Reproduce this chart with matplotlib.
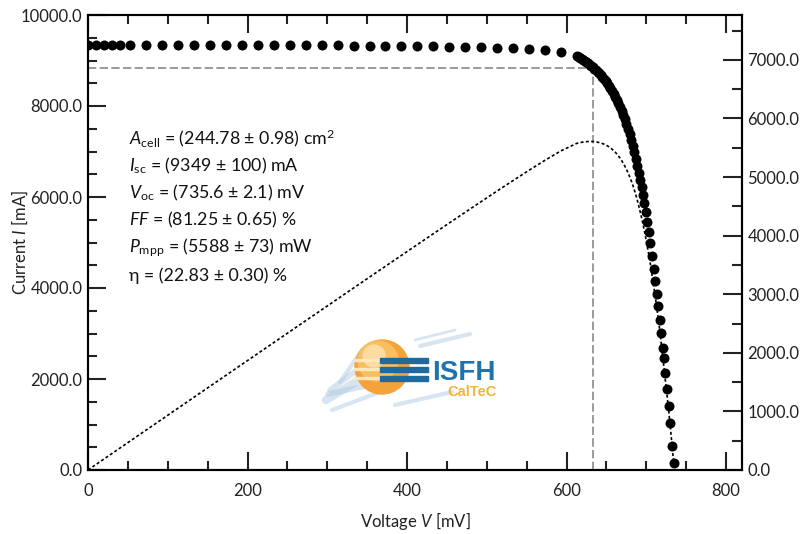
import matplotlib
matplotlib.use("Agg")
import matplotlib.pyplot as plt
import numpy as np
from matplotlib.patches import Circle, Rectangle
from matplotlib.ticker import MultipleLocator, FormatStrFormatter

plt.rcParams['font.family'] = ['Lato', 'DejaVu Sans']
plt.rcParams['mathtext.fontset'] = 'custom'
plt.rcParams['mathtext.rm'] = 'Lato'
plt.rcParams['mathtext.it'] = 'Lato:italic'

# measured I-V points (voltage in mV, current in mA)
volt_low = [0, 10, 20, 30, 40, 53, 73, 93, 113, 133, 153, 173, 193, 213, 233, 253,
            273, 293, 313, 333, 353, 373, 393, 413, 433, 453, 473, 493, 513, 533,
            553, 573, 593]
curr_low = [9350, 9349, 9349, 9348, 9348, 9347, 9346, 9345, 9344, 9343, 9342, 9341,
            9340, 9338, 9337, 9335, 9334, 9332, 9330, 9328, 9326, 9323, 9320, 9316,
            9312, 9307, 9300, 9292, 9282, 9268, 9250, 9225, 9185]
volt_knee = [613, 615, 617, 619, 621, 623, 625, 627, 629, 631, 633, 635, 637, 639,
             641, 643, 645, 647, 649, 651, 653, 655, 657, 659, 661, 663, 665, 667,
             669, 671, 673, 675, 677, 679, 681, 683, 685, 687]
curr_knee = [9095, 9075, 9055, 9035, 9012, 8990, 8965, 8940, 8912, 8885, 8855, 8823,
             8790, 8755, 8718, 8680, 8638, 8594, 8548, 8500, 8448, 8393, 8335, 8273,
             8207, 8137, 8062, 7982, 7897, 7806, 7710, 7607, 7497, 7380, 7255, 7122,
             6980, 6830]
volt_tail = [688.8, 690.6, 692.3, 694.0, 695.7, 697.5, 699.3, 701.1, 703.0, 705.0,
             707.2, 709.3, 711.3, 713.2, 715.2, 717.0, 718.7, 720.6, 721.9, 723.8,
             725.9, 727.9, 730.0, 732.5, 734.5]
curr_tail = [6680, 6520, 6370, 6210, 6040, 5860, 5660, 5460, 5240, 5000, 4700, 4420,
             4150, 3870, 3600, 3300, 3010, 2690, 2460, 2130, 1780, 1410, 1030, 530, 150]

v_mpp = 633
i_mpp = 8840

params = [
    r"$\mathit{A}_{\mathrm{cell}}$ = (244.78 ± 0.98) cm$^{2}$",
    r"$\mathit{I}_{\mathrm{sc}}$ = (9349 ± 100) mA",
    r"$\mathit{V}_{\mathrm{oc}}$ = (735.6 ± 2.1) mV",
    r"$\mathit{FF}$ = (81.25 ± 0.65) %",
    r"$\mathit{P}_{\mathrm{mpp}}$ = (5588 ± 73) mW",
    "η = (22.83 ± 0.30) %",
]

volt = np.array(volt_low + volt_knee + volt_tail)
curr = np.array(curr_low + curr_knee + curr_tail)
power = volt * curr / 1000.0  # mW

fig = plt.figure(figsize=(8.01, 5.34), dpi=100)

# ISFH CalTeC logo, drawn behind the data
lg = fig.add_axes([320 / 801, 114 / 534, 180 / 801, 95 / 534], zorder=0)
lg.set_xlim(320, 500)
lg.set_ylim(420, 325)
lg.axis('off')
strokes = [(326, 400, 372, 372, 6), (330, 390, 368, 362, 4), (332, 410, 380, 392, 3),
           (340, 382, 362, 350, 3), (395, 405, 452, 392, 3), (420, 346, 470, 334, 3),
           (415, 340, 455, 330, 2), (328, 394, 375, 384, 4)]
for x0, y0, x1, y1, w in strokes:
    lg.plot([x0, x1], [y0, y1], color='#a9c6e2', lw=w, alpha=0.45,
            solid_capstyle='round', zorder=0.5)
lg.add_patch(Circle((382, 367), 27, color='#f3a33a', zorder=1))
lg.add_patch(Circle((378, 361), 20, color='#f8bf62', zorder=1))
lg.add_patch(Circle((374, 356), 11, color='#fcdca0', zorder=1))
for yb in (360, 369, 378):
    lg.add_patch(Rectangle((354, yb - 1.3), 26, 2.6, color='#fde7bd', zorder=2))
    lg.add_patch(Rectangle((380, yb - 2.5), 48, 5.0, color='#1d6b9c', zorder=2))
lg.text(432, 380, "ISFH", fontsize=20, fontweight='bold', color='#1f73ad',
        family='Liberation Sans', va='baseline')
lg.text(447, 396, "CalTeC", fontsize=10.5, fontweight='bold', color='#f2b43a',
        family='Liberation Sans', va='baseline')

ax = fig.add_axes([88 / 801, 64 / 534, 654 / 801, 455 / 534], zorder=1)
ax.patch.set_alpha(0)
ax2 = ax.twinx()
ax2.patch.set_alpha(0)

ax.plot([0, v_mpp], [i_mpp, i_mpp], color='#8a8a8a', lw=1.2, dashes=(5, 2), zorder=2)
ax.plot([v_mpp, v_mpp], [0, i_mpp], color='#8a8a8a', lw=1.2, dashes=(5, 2), zorder=2)
ax.plot(volt, curr, 'o', color='black', ms=7.2, mew=0, zorder=3)
ax2.plot(volt, power, color='black', lw=1.2, ls=(0, (1.8, 1.4)))

ax.set_xlim(0, 820)
ax.set_ylim(0, 10000)
ax2.set_ylim(0, 7765)

ax.xaxis.set_major_locator(MultipleLocator(200))
ax.xaxis.set_minor_locator(MultipleLocator(50))
ax.yaxis.set_major_locator(MultipleLocator(2000))
ax.yaxis.set_minor_locator(MultipleLocator(500))
ax.yaxis.set_major_formatter(FormatStrFormatter('%.1f'))
ax2.yaxis.set_major_locator(MultipleLocator(1000))
ax2.yaxis.set_minor_locator(MultipleLocator(500))
ax2.yaxis.set_major_formatter(FormatStrFormatter('%.1f'))

ax.tick_params(which='both', direction='in', top=True, right=False, width=1.5,
               labelsize=12, colors='#222222')
ax.tick_params(which='major', length=13)
ax.tick_params(which='minor', length=6.5)
ax.tick_params(axis='x', pad=9)
ax.tick_params(axis='y', pad=4)
ax2.tick_params(which='both', direction='in', width=1.5, labelsize=12, pad=4,
                colors='#222222')
ax2.tick_params(which='major', length=14)
ax2.tick_params(which='minor', length=7)
for a in (ax, ax2):
    for s in a.spines.values():
        s.set_linewidth(1.5)

ax.set_xlabel(r"Voltage $\mathit{V}$ [mV]", fontsize=12, color='#222222')
ax.xaxis.set_label_coords(0.5, -0.112)
ax.xaxis.label.set_va('center')
ax.set_ylabel(r"Current $\mathit{I}$ [mA]", fontsize=12, color='#222222')
ax.yaxis.set_label_coords(-0.104, 0.5)
ax.yaxis.label.set_va('center')

for k, line in enumerate(params):
    ax.text(0.062, 0.73 - k * 0.0604, line, transform=ax.transAxes, fontsize=12.8,
            va='center', ha='left', color='#111111')

fig.savefig("out.png", dpi=100)
